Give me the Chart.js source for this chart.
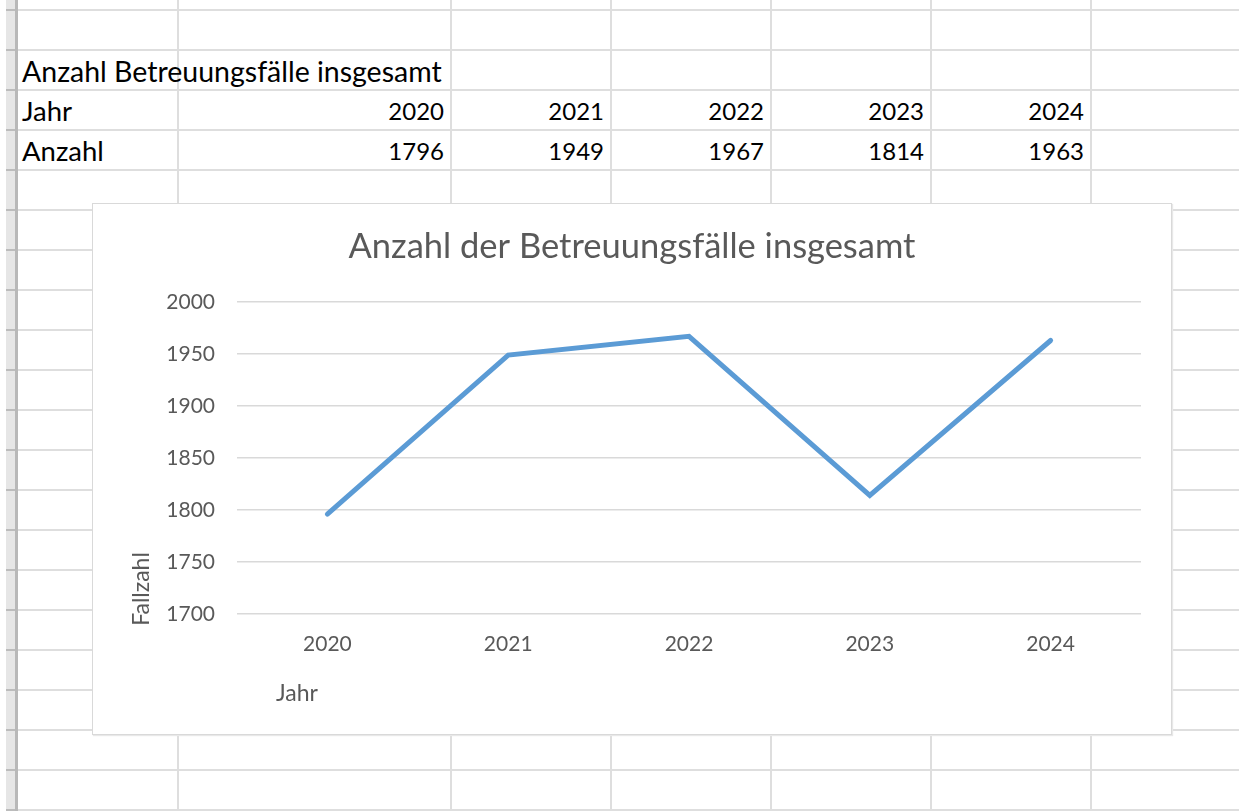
<!DOCTYPE html>
<html>
<head>
<meta charset="utf-8">
<script src="https://cdn.jsdelivr.net/npm/chart.js@4"></script>
<style>
html,body{margin:0;padding:0;background:#fff;width:1239px;height:811px;overflow:hidden;position:relative;font-family:Lato,sans-serif}
.h{position:absolute;left:18px;width:1221px;height:2px;background:#dedede}
.hb{position:absolute;left:6px;width:12px;height:2px;background:#bcbcbc}
.v{position:absolute;top:0;height:811px;width:2px;background:#dedede}
.band{position:absolute;left:6px;width:10px;top:0;height:811px;background:#e6e6e6}
.bandline{position:absolute;left:15px;width:3px;top:0;height:811px;background:#b8b8b8}
.cell{position:absolute;font-size:27.5px;color:#000;height:40px;line-height:40px;white-space:nowrap}
.ttl{font-size:28.5px}
.num{font-size:24px}
#box{position:absolute;left:92px;top:203px;width:1078px;height:530px;border:1px solid #d9d9d9;background:#fff;box-shadow:1px 1px 1px #e8e8e8}
#box canvas{display:block}
</style>
</head>
<body>
<div id="sheet"></div>
<div id="box"><canvas id="chart" width="1078" height="530"></canvas></div>
<script>
// ---- data ----
const tableTitle = "Anzahl Betreuungsfälle insgesamt";
const rowLabels = ["Jahr", "Anzahl"];
const years = ["2020", "2021", "2022", "2023", "2024"];
const cases = [1796, 1949, 1967, 1814, 1963];
const chartTitle = "Anzahl der Betreuungsfälle insgesamt";
const xAxisTitle = "Jahr";
const yAxisTitle = "Fallzahl";
const yMin = 1700, yMax = 2000, yStep = 50;

// ---- spreadsheet grid ----
const sheet = document.getElementById('sheet');
function add(cls, style, text) {
  const d = document.createElement('div');
  d.className = cls;
  Object.assign(d.style, style);
  if (text !== undefined) d.textContent = text;
  sheet.appendChild(d);
  return d;
}
add('band', {});
for (let y = 9; y < 811; y += 40) { add('h', {top: y + 'px'}); add('hb', {top: y + 'px'}); }
add('bandline', {});
const colLines = [177, 450, 610, 770, 930, 1090];
colLines.forEach(x => add('v', {left: x + 'px'}));
const colRights = [444, 604, 764, 924, 1084];
add('cell ttl', {left: '22px', top: '51px'}, tableTitle);
add('cell', {left: '22px', top: '91px'}, rowLabels[0]);
add('cell', {left: '22px', top: '131px'}, rowLabels[1]);
years.forEach((y, i) => add('cell num', {right: (1239 - colRights[i]) + 'px', top: '91px', textAlign: 'right'}, y));
cases.forEach((v, i) => add('cell num', {right: (1239 - colRights[i]) + 'px', top: '131px', textAlign: 'right'}, String(v)));

// ---- chart ----
Chart.defaults.font.family = 'Lato';
const grey = '#595959';
const axisTitlePlugin = {
  id: 'axisTitles',
  afterDraw(chart) {
    const {ctx, chartArea} = chart;
    ctx.save();
    ctx.fillStyle = grey;
    ctx.font = '23px Lato';
    ctx.textAlign = 'center';
    ctx.textBaseline = 'middle';
    ctx.fillText(xAxisTitle, chartArea.left + 60, chartArea.bottom + 80);
    ctx.translate(chartArea.left - 95, chartArea.bottom - 25);
    ctx.rotate(-Math.PI / 2);
    ctx.fillText(yAxisTitle, 0, 0);
    ctx.restore();
  }
};
new Chart(document.getElementById('chart'), {
  type: 'line',
  data: {
    labels: years,
    datasets: [{
      label: 'Anzahl',
      data: cases,
      borderColor: '#5B9BD5',
      backgroundColor: '#5B9BD5',
      borderWidth: 5,
      borderCapStyle: 'round',
      borderJoinStyle: 'miter',
      pointRadius: 0,
      pointHoverRadius: 0,
      tension: 0,
      fill: false,
      yAxisID: 'y'
    }]
  },
  options: {
    responsive: false,
    animation: false,
    events: [],
    layout: {padding: 0},
    plugins: {
      legend: {display: false},
      tooltip: {enabled: false},
      title: {
        display: true,
        text: chartTitle,
        color: grey,
        font: {size: 34.5, weight: 'normal', family: 'Lato'},
        padding: {top: 22.3, bottom: 34.3}
      }
    },
    scales: {
      x: {
        type: 'category',
        offset: true,
        grid: {display: false, drawTicks: false},
        border: {display: false},
        ticks: {color: grey, font: {size: 21}, padding: 18, maxRotation: 0},
        afterFit(s) { s.height = 120; }
      },
      y: {
        min: yMin,
        max: yMax,
        grid: {color: '#d9d9d9', lineWidth: 1.5, drawTicks: false},
        border: {display: false},
        ticks: {stepSize: yStep, color: grey, font: {size: 21}, padding: 22, callback: v => String(v)},
        afterFit(s) { s.width = 144; }
      },
      yRight: {
        type: 'linear',
        position: 'right',
        min: yMin,
        max: yMax,
        grid: {display: false, drawTicks: false},
        border: {display: false},
        ticks: {display: false},
        afterFit(s) { s.width = 30; }
      }
    }
  },
  plugins: [axisTitlePlugin]
});
</script>
</body>
</html>
